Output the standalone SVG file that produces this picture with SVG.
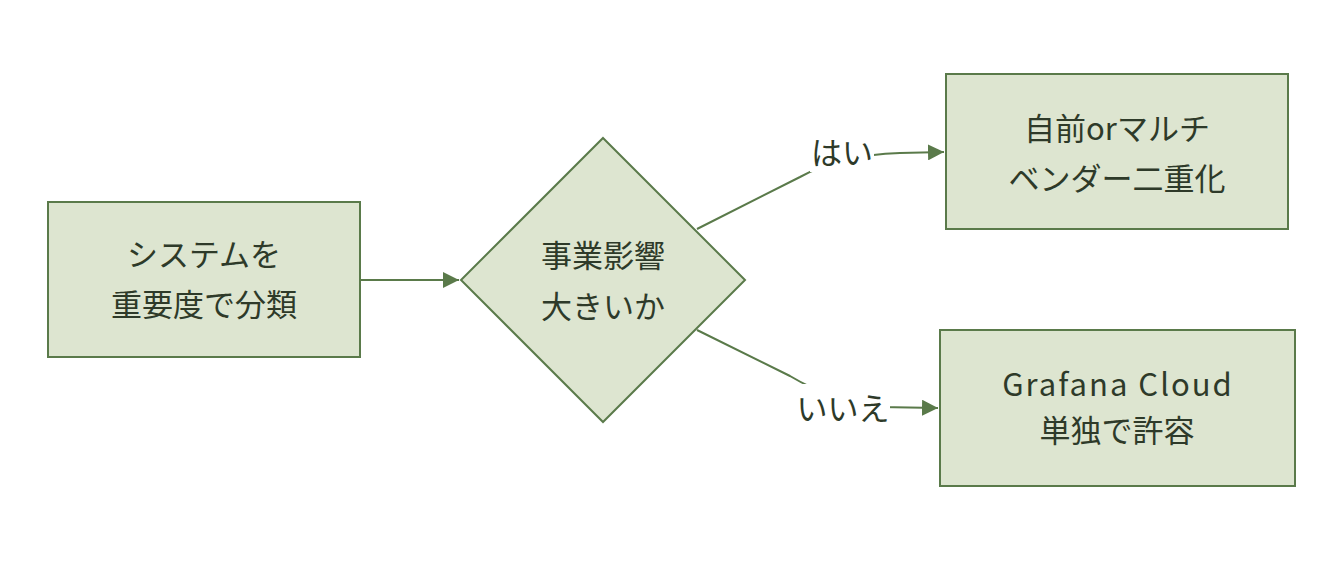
<svg xmlns="http://www.w3.org/2000/svg" width="1342" height="564" viewBox="0 0 1342 564">
<style>
.node{fill:#dde5d0;stroke:#5a7a4a;stroke-width:2}
.t{font-family:"Noto Sans CJK JP","Noto Sans",sans-serif;font-size:31px;fill:#2e3a29;text-anchor:middle}
.lat{letter-spacing:2px}
.edge{fill:none;stroke:#5a7a4a;stroke-width:2}
.lbg{fill:#ffffff}
</style>
<defs>
<marker id="ah2" viewBox="0 0 10 10" refX="10" refY="5" markerWidth="16" markerHeight="16" markerUnits="userSpaceOnUse" orient="auto">
<path d="M0,0 L10,5 L0,10 z" fill="#5a7a4a"/>
</marker>
</defs>
<rect width="1342" height="564" fill="#ffffff"/>
<g id="edges">
<path class="edge" d="M360,280 L459,280" marker-end="url(#ah2)"/>
<path class="edge" d="M697,229 L800,177 Q 840,155 900,153 L944,152" marker-end="url(#ah2)"/>
<path class="edge" d="M697,330 L790,376 Q 830,400 880,407 L938,408" marker-end="url(#ah2)"/>
<rect class="lbg" x="810" y="134" width="64" height="38"/>
<text class="t" x="842" y="164">はい</text>
<rect class="lbg" x="796" y="384" width="94" height="44"/>
<text class="t" x="843" y="420">いいえ</text>
</g>
<g id="n1">
<rect class="node" x="48" y="202" width="312" height="155"/>
<text class="t" x="204" y="266">システムを</text>
<text class="t" x="204" y="316">重要度で分類</text>
</g>
<g id="n2">
<polygon class="node" points="603,138 745,280 603,422 461,280"/>
<text class="t" x="603" y="267">事業影響</text>
<text class="t" x="603" y="318">大きいか</text>
</g>
<g id="n3">
<rect class="node" x="946" y="74" width="342" height="155"/>
<text class="t" x="1117" y="140">自前orマルチ</text>
<text class="t" x="1117" y="190">ベンダー二重化</text>
</g>
<g id="n4">
<rect class="node" x="940" y="330" width="355" height="156"/>
<text class="t lat" x="1118" y="396">Grafana Cloud</text>
<text class="t" x="1117" y="442">単独で許容</text>
</g>
</svg>
